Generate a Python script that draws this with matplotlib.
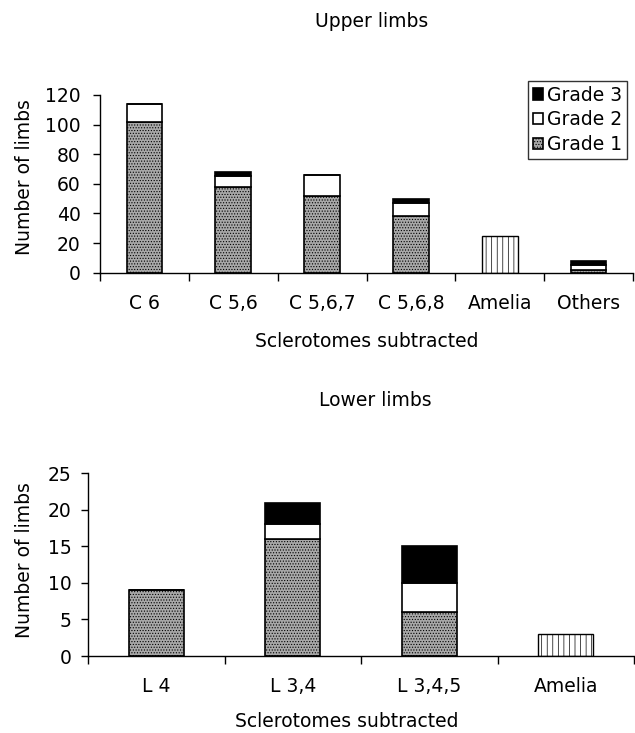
import matplotlib
matplotlib.use("Agg")
import matplotlib.pyplot as plt
import numpy as np

plt.rcParams['font.family'] = ['DejaVu Sans']
plt.rcParams['hatch.linewidth'] = 0.5

# ---- data ----
upper_cats = ["C 6", "C 5,6", "C 5,6,7", "C 5,6,8", "Amelia", "Others"]
upper_g1 = [102, 58, 52, 38, 0, 2]
upper_g2 = [12, 7, 14, 9, 0, 3]
upper_g3 = [0, 3, 0, 3, 0, 3]
upper_amelia = [0, 0, 0, 0, 25, 0]

lower_cats = ["L 4", "L 3,4", "L 3,4,5", "Amelia"]
lower_g1 = [9, 16, 6, 0]
lower_g2 = [0, 2, 4, 0]
lower_g3 = [0, 3, 5, 0]
lower_amelia = [0, 0, 0, 3]

upper_yticks = [0, 20, 40, 60, 80, 100, 120]
lower_yticks = [0, 5, 10, 15, 20, 25]
legend_labels = ["Grade 3", "Grade 2", "Grade 1"]

FS = 13.5
G1_FACE = '#a8a8a8'

fig = plt.figure(figsize=(6.35, 7.33), dpi=100)
W, H = 635, 733

def axes_px(l, r, t, b):
    return fig.add_axes([l / W, 1 - b / H, (r - l) / W, (b - t) / H])

ax1 = axes_px(100, 633, 95, 272.7)
ax2 = axes_px(88, 634, 473.3, 656)


def draw(ax, cats, g1, g2, g3, am, yticks, width=0.4):
    x = np.arange(len(cats))
    g1 = np.array(g1); g2 = np.array(g2); g3 = np.array(g3); am = np.array(am)
    b1 = ax.bar(x, g1, width, color=G1_FACE, edgecolor='black', linewidth=1.2, hatch='......')
    b2 = ax.bar(x, g2, width, bottom=g1, color='white', edgecolor='black', linewidth=1.2)
    b3 = ax.bar(x, g3, width, bottom=g1 + g2, color='black', edgecolor='black', linewidth=1.2)
    ax.bar(x, am, width, color='white', edgecolor='black', linewidth=1.0, hatch='|||')
    ax.set_xlim(-0.5, len(cats) - 0.5)
    ax.set_ylim(0, yticks[-1])
    ax.set_yticks(yticks)
    ax.set_xticks(x)
    ax.set_xticklabels(cats, fontsize=FS)
    ax.set_xticks(np.arange(len(cats) + 1) - 0.5, minor=True)
    ax.tick_params(axis='x', which='major', length=0, pad=15)
    ax.tick_params(axis='x', which='minor', length=6, width=1, direction='out')
    ax.tick_params(axis='y', length=5, width=1, direction='out', labelsize=FS)
    for s in ['top', 'right']:
        ax.spines[s].set_visible(False)
    for s in ['left', 'bottom']:
        ax.spines[s].set_linewidth(1.0)
    return b1, b2, b3


b1, b2, b3 = draw(ax1, upper_cats, upper_g1, upper_g2, upper_g3, upper_amelia, upper_yticks)
draw(ax2, lower_cats, lower_g1, lower_g2, lower_g3, lower_amelia, lower_yticks)
ax1.tick_params(axis='y', pad=9)
ax2.tick_params(axis='y', pad=7)

ax1.set_title("Upper limbs", fontsize=FS, x=0.51, y=1.411, va='center', pad=0)
ax2.set_title("Lower limbs", fontsize=FS, x=0.526, y=1.401, va='center', pad=0)

ax1.set_xlabel("Sclerotomes subtracted", fontsize=FS, va='center')
ax1.xaxis.set_label_coords(0.5, -0.388)
ax2.set_xlabel("Sclerotomes subtracted", fontsize=FS, va='center')
ax2.xaxis.set_label_coords(0.474, -0.361)

ax1.set_ylabel("Number of limbs", fontsize=FS, va='center')
ax1.yaxis.set_label_coords(-0.1417, 0.536)
ax2.set_ylabel("Number of limbs", fontsize=FS, va='center')
ax2.yaxis.set_label_coords(-0.117, 0.525)

leg = ax1.legend([b3, b2, b1], legend_labels, loc='upper right',
                 bbox_to_anchor=(627 / W, 1 - 81 / H), bbox_transform=fig.transFigure,
                 fontsize=FS, frameon=True, fancybox=False, borderaxespad=0,
                 handlelength=0.55, handleheight=0.55, handletextpad=0.2,
                 labelspacing=0.3, borderpad=0.25)
leg.get_frame().set_edgecolor('black')
leg.get_frame().set_linewidth(1.0)

fig.savefig("out.png", dpi=100)
